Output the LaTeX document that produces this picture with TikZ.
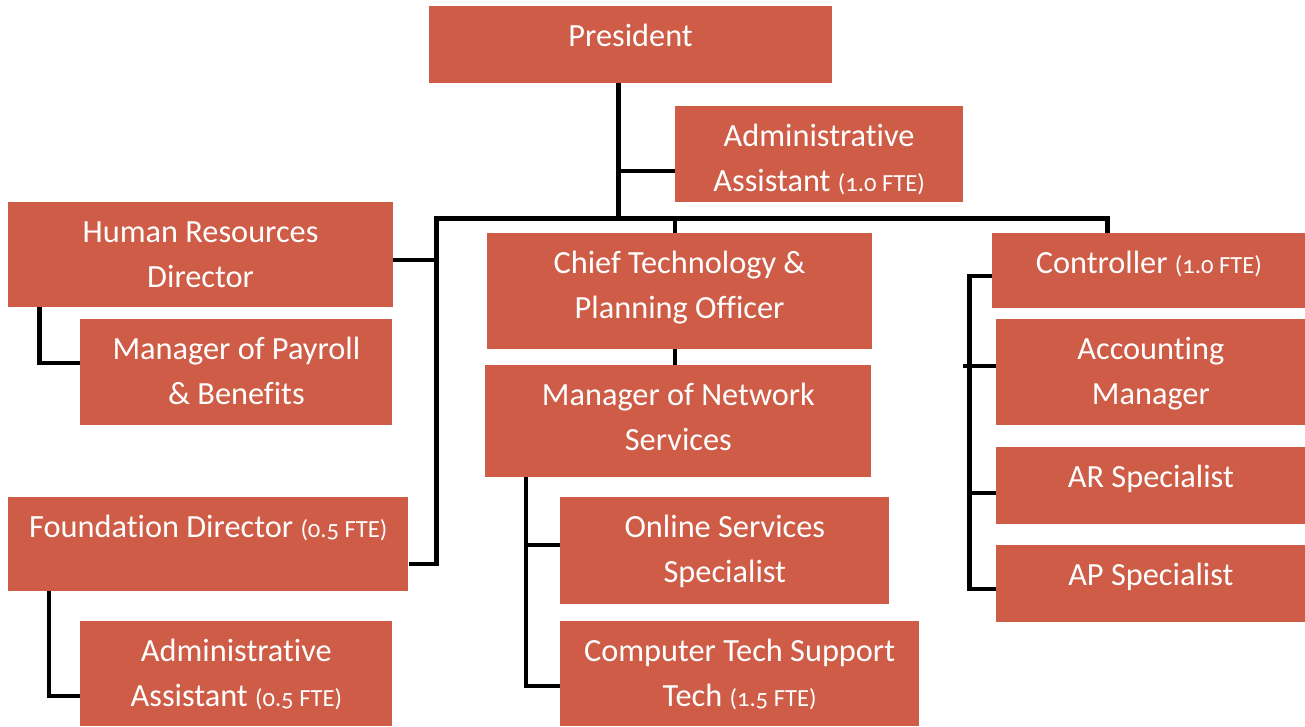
\documentclass[tikz,border=0pt]{standalone}
\usepackage{fontspec}
\setmainfont{Carlito}[Ligatures={NoCommon,NoContextual}]
\usepackage{tikz}

\definecolor{boxred}{RGB}{206,92,70}
\newcommand{\fte}[1]{{\fontsize{14}{16}\addfontfeatures{Numbers=OldStyle}(#1 FTE)}}

\tikzset{
  box/.style={fill=boxred, inner sep=0pt, anchor=north west, label={[boxtext]north:{\strut#1}}},
  boxtext/.style={text=white, align=center, anchor=north, inner sep=0pt, yshift=-0.184cm,
    font=\fontsize{18.4}{25.4}\selectfont},
  link/.style={line width=2.3pt}
}

\begin{document}
\begin{tikzpicture}
\useasboundingbox (0,0) rectangle (26.1,-14.52);

\node[box={President}, minimum width=8.05cm, minimum height=1.53cm] (pres) at (8.58,-0.12) {};
\node[box={Administrative\\Assistant \fte{1.0}}, minimum width=5.75cm, minimum height=1.91cm] (adm1) at (13.5,-2.12) {};
\node[box={Human Resources\\Director}, minimum width=7.69cm, minimum height=2.09cm] (hr) at (0.16,-4.04) {};
\node[box={Chief Technology \&\\Planning Officer}, minimum width=7.69cm, minimum height=2.31cm] (cto) at (9.74,-4.66) {};
\node[box={Controller \fte{1.0}}, minimum width=6.26cm, minimum height=1.49cm] (ctrl) at (19.84,-4.66) {};
\node[box={Manager of Payroll\\\& Benefits}, minimum width=6.24cm, minimum height=2.11cm] (pay) at (1.6,-6.38) {};
\node[box={Manager of Network\\Services}, minimum width=7.72cm, minimum height=2.23cm] (net) at (9.7,-7.3) {};
\node[box={Accounting\\Manager}, minimum width=6.18cm, minimum height=2.11cm] (acct) at (19.92,-6.38) {};
\node[box={AR Specialist}, minimum width=6.18cm, minimum height=1.53cm] (ar) at (19.92,-8.94) {};
\node[box={AP Specialist}, minimum width=6.18cm, minimum height=1.53cm] (ap) at (19.92,-10.9) {};
\node[box={Foundation Director \fte{0.5}}, minimum width=8cm, minimum height=1.87cm] (fdn) at (0.16,-9.94) {};
\node[box={Online Services\\Specialist}, minimum width=6.58cm, minimum height=2.13cm] (online) at (11.2,-9.94) {};
\node[box={Computer Tech Support\\Tech \fte{1.5}}, minimum width=7.17cm, minimum height=2.1cm] (comp) at (11.2,-12.42) {};
\node[box={Administrative\\Assistant \fte{0.5}}, minimum width=6.24cm, minimum height=2.1cm] (adm2) at (1.6,-12.42) {};

\coordinate (top) at (12.37,-4.37);
\coordinate (lbus) at (8.73,-4.37);
\coordinate (rbus) at (22.15,-4.37);
\coordinate (mid) at (13.5,-4.37);
\coordinate (hrx) at (0.79,0);
\coordinate (fdnx) at (0.98,0);
\coordinate (netx) at (10.52,0);
\coordinate (ctrlx) at (19.39,0);
\coordinate (stub) at (19.26,0);

\coordinate (adm1in) at ([yshift=-0.345cm]adm1.west);
\coordinate (hrin) at ([yshift=-0.1cm]hr.east);
\coordinate (fdnin) at ([yshift=-0.4cm]fdn.east);
\coordinate (payin) at ([yshift=0.175cm]pay.west);
\coordinate (adm2in) at ([yshift=-0.44cm]adm2.west);
\coordinate (onin) at ([yshift=0.11cm]online.west);
\coordinate (compin) at ([yshift=-0.24cm]comp.west);
\coordinate (ctrlin) at ([yshift=-0.1cm]ctrl.west);
\coordinate (acctin) at ([yshift=0.13cm]acct.west);
\coordinate (arin) at ([yshift=-0.14cm]ar.west);
\coordinate (apin) at ([yshift=-0.1cm]ap.west);

\draw[link] (pres.south -| top) -- (top);
\draw[link] (top) |- (adm1in);
\draw[link] (fdnin) -| (lbus) -- (rbus) -- (ctrl.north -| rbus);
\draw[link] (hrin) -- (hrin -| lbus);
\draw[link] (mid) -- (cto.north -| mid);
\draw[link] (cto.south -| mid) -- (net.north -| mid);

\draw[link] (hr.south -| hrx) |- (payin);
\draw[link] (fdn.south -| fdnx) |- (adm2in);

\draw[link] (net.south -| netx) |- (compin);
\draw[link] (onin -| netx) -- (onin);

\draw[link] (ctrlin) -| (ctrlx |- apin) -- (apin);
\draw[link] (acctin -| stub) -- (acctin);
\draw[link] (arin -| ctrlx) -- (arin);
\end{tikzpicture}
\end{document}
